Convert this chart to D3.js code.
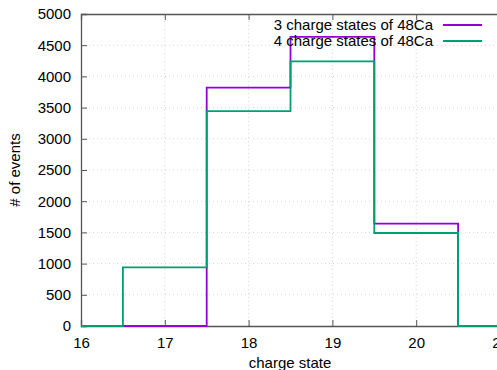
<!DOCTYPE html>
<html>
<head>
<meta charset="utf-8">
<script src="https://cdn.jsdelivr.net/npm/d3@7"></script>
<style>
  body { margin: 0; background: #fff; overflow: hidden; }
  text { font-family: "Liberation Sans", Arial, sans-serif; }
</style>
</head>
<body>
<div id="chart"></div>
<script>
// charge states (bin centres) and event counts
var chargeStates = [16, 17, 18, 19, 20, 21];
var threeStates = [0, 0, 3820, 4635, 1640, 0];
var fourStates = [0, 940, 3445, 4240, 1490, 0];
var xTicks = [16, 17, 18, 19, 20, 21];
var yTicks = [0, 500, 1000, 1500, 2000, 2500, 3000, 3500, 4000, 4500, 5000];

var series = [
  { name: "3 charge states of 48Ca", values: threeStates, color: "#9400d3" },
  { name: "4 charge states of 48Ca", values: fourStates, color: "#009e73" }
];

var width = 497, height = 370;
var margin = { left: 81, top: 14, right: -3, bottom: 44 };

var svg = d3.select("#chart").append("svg")
    .attr("width", width)
    .attr("height", height);

var x = d3.scaleLinear().domain([16, 21]).range([margin.left, width - margin.right]);
var y = d3.scaleLinear().domain([0, 5000]).range([height - margin.bottom, margin.top]);

// grid
svg.append("g").selectAll("line.gx")
    .data(xTicks.slice(1, -1))
    .enter().append("line")
    .attr("x1", d => x(d)).attr("x2", d => x(d))
    .attr("y1", y(0)).attr("y2", y(5000))
    .attr("stroke", "#c8c8c8").attr("stroke-width", 0.8)
    .attr("stroke-dasharray", "1,3");
svg.append("g").selectAll("line.gy")
    .data(yTicks.slice(1, -1))
    .enter().append("line")
    .attr("x1", x(16)).attr("x2", x(21))
    .attr("y1", d => y(d)).attr("y2", d => y(d))
    .attr("stroke", "#c8c8c8").attr("stroke-width", 0.8)
    .attr("stroke-dasharray", "1,3");

// axes with inward ticks
var xAxis = svg.append("g")
    .attr("transform", "translate(0," + y(0) + ")")
    .call(d3.axisBottom(x).tickValues(xTicks).tickSize(-6).tickPadding(11).tickFormat(d3.format("d")));
var xTop = svg.append("g")
    .attr("transform", "translate(0," + y(5000) + ")")
    .call(d3.axisTop(x).tickValues(xTicks).tickSize(-6).tickFormat(""));
var yAxis = svg.append("g")
    .attr("transform", "translate(" + x(16) + ",0)")
    .call(d3.axisLeft(y).tickValues(yTicks).tickSize(-6).tickPadding(10).tickFormat(d3.format("d")));

[xAxis, xTop, yAxis].forEach(function (g) {
  g.select(".domain").attr("stroke", "#555").attr("stroke-width", 1.3);
  g.selectAll(".tick line").attr("stroke", "#555").attr("stroke-width", 1);
  g.selectAll(".tick text").attr("fill", "#000").style("font-size", "15px")
    .style("font-family", "'Liberation Sans', Arial, sans-serif");
});

// histogram steps
var line = d3.line()
    .x((d, i) => x(chargeStates[i]))
    .y(d => y(d))
    .curve(d3.curveStep);

svg.append("g").selectAll("path.series")
    .data(series)
    .enter().append("path")
    .attr("d", d => line(d.values))
    .attr("fill", "none")
    .attr("stroke", d => d.color)
    .attr("stroke-width", 1.8);

// legend
var legend = svg.append("g").selectAll("g")
    .data(series)
    .enter().append("g")
    .attr("transform", (d, i) => "translate(0," + (25 + i * 16) + ")");
legend.append("text")
    .attr("x", 433).attr("y", 5)
    .attr("text-anchor", "end")
    .style("font-size", "15px")
    .text(d => d.name);
legend.append("line")
    .attr("x1", 443).attr("x2", 482)
    .attr("stroke", d => d.color)
    .attr("stroke-width", 1.8);

// axis labels
svg.append("text")
    .attr("x", 290).attr("y", 368)
    .attr("text-anchor", "middle")
    .style("font-size", "15px")
    .text("charge state");
svg.append("text")
    .attr("transform", "translate(20," + ((y(0) + y(5000)) / 2) + ") rotate(-90)")
    .attr("text-anchor", "middle")
    .style("font-size", "15px")
    .text("# of events");
</script>
</body>
</html>
